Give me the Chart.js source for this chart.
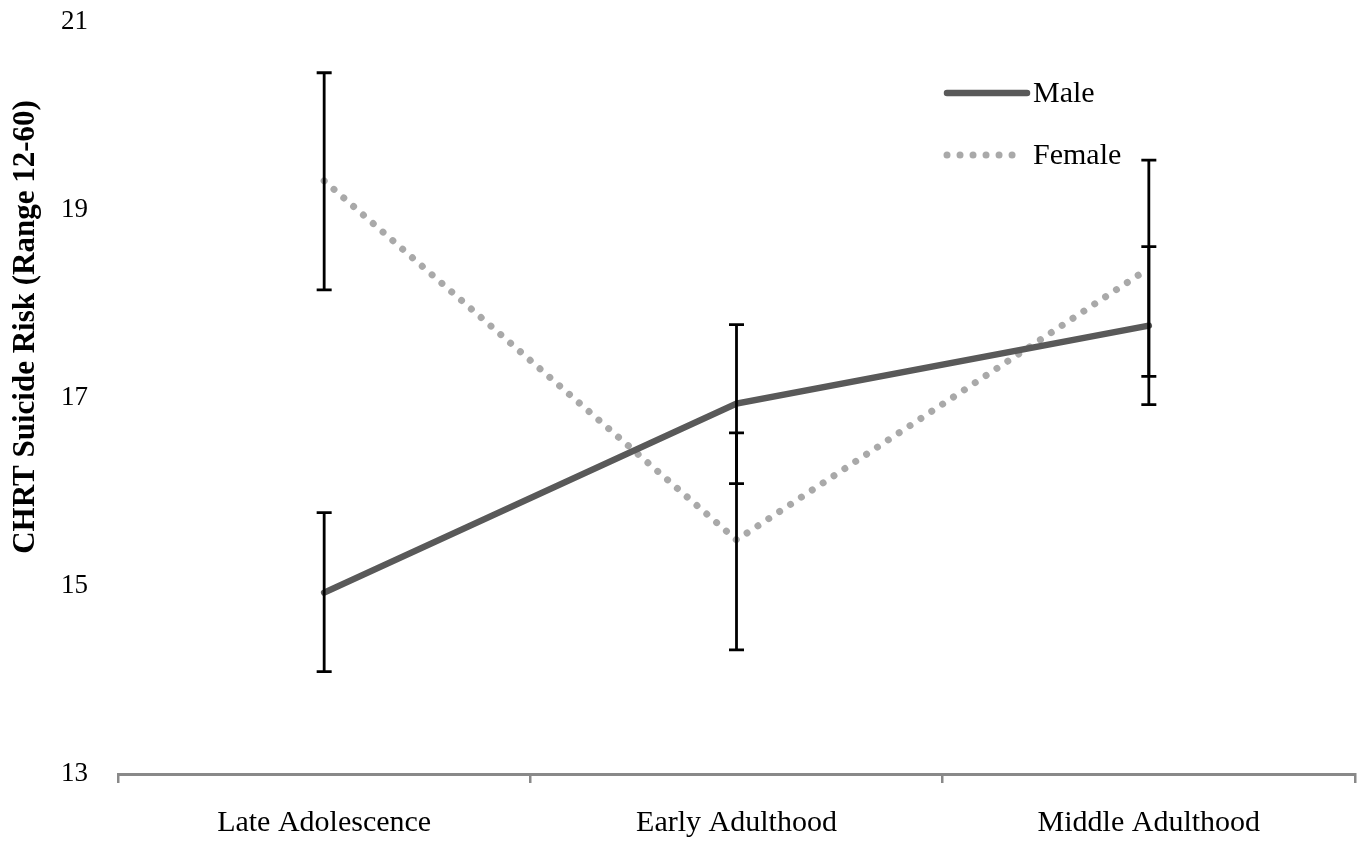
<!DOCTYPE html>
<html>
<head>
<meta charset="utf-8">
<script src="https://cdn.jsdelivr.net/npm/chart.js@4/dist/chart.umd.min.js"></script>
<style>
  html, body { margin: 0; padding: 0; background: #fff; }
  #wrap { width: 1363px; height: 842px; position: relative; }
</style>
</head>
<body>
<div id="wrap"><canvas id="graph"></canvas></div>
<script>
const categories = ['Late Adolescence', 'Early Adulthood', 'Middle Adulthood'];
const maleMean = [14.93, 16.94, 17.77];
const maleLow = [14.09, 16.09, 16.93];
const maleHigh = [15.78, 17.78, 18.61];
const femaleMean = [19.31, 15.49, 18.38];
const femaleLow = [18.15, 14.32, 17.23];
const femaleHigh = [20.46, 16.63, 19.53];
const yTicks = [13, 15, 17, 19, 21];
const yTitle = 'CHRT Suicide Risk (Range 12-60)';

const serif = "'Liberation Serif', 'Times New Roman', serif";

// error bars: [low, high] per dataset, drawn on top of the lines
const errorBars = [
  { low: maleLow, high: maleHigh },
  { low: femaleLow, high: femaleHigh }
];

const errorBarPlugin = {
  id: 'errorBars',
  afterDatasetsDraw(chart) {
    const ctx = chart.ctx;
    const y = chart.scales.y;
    ctx.save();
    ctx.strokeStyle = '#000';
    ctx.lineWidth = 2.8;
    errorBars.forEach((eb, di) => {
      const meta = chart.getDatasetMeta(di);
      meta.data.forEach((pt, i) => {
        const top = y.getPixelForValue(eb.high[i]);
        const bot = y.getPixelForValue(eb.low[i]);
        ctx.beginPath();
        ctx.moveTo(pt.x, top);
        ctx.lineTo(pt.x, bot);
        ctx.moveTo(pt.x - 7.5, top);
        ctx.lineTo(pt.x + 7.5, top);
        ctx.moveTo(pt.x - 7.5, bot);
        ctx.lineTo(pt.x + 7.5, bot);
        ctx.stroke();
      });
    });
    ctx.restore();
  }
};

// legend inside the plot (top right) and the y title, which sits above centre
const legendPlugin = {
  id: 'insideLegend',
  afterDraw(chart) {
    const ctx = chart.ctx;
    const rows = [{ y: 93, x2: 1027 }, { y: 155, x2: 1017 }];
    ctx.save();
    chart.data.datasets.forEach((ds, i) => {
      const r = rows[i];
      ctx.beginPath();
      ctx.strokeStyle = ds.borderColor;
      ctx.lineWidth = ds.borderWidth;
      ctx.lineCap = 'round';
      ctx.setLineDash(ds.borderDash || []);
      ctx.moveTo(947, r.y);
      ctx.lineTo(r.x2, r.y);
      ctx.stroke();
      ctx.setLineDash([]);
      ctx.fillStyle = '#000';
      ctx.font = '30px ' + serif;
      ctx.textBaseline = 'middle';
      ctx.textAlign = 'left';
      ctx.fillText(ds.label, 1033, r.y + 1);
    });

    ctx.translate(26, 327);
    ctx.rotate(-Math.PI / 2);
    ctx.font = 'bold 31px ' + serif;
    ctx.textAlign = 'center';
    ctx.textBaseline = 'middle';
    ctx.fillStyle = '#000';
    ctx.fillText(yTitle, 0, 0);
    ctx.restore();
  }
};

const config = {
  type: 'line',
  data: {
    labels: categories,
    datasets: [
      {
        label: 'Male',
        data: maleMean,
        borderColor: '#595959',
        borderWidth: 6.5,
        borderCapStyle: 'round',
        pointRadius: 0,
        tension: 0,
        fill: false
      },
      {
        label: 'Female',
        data: femaleMean,
        borderColor: '#A9A9A9',
        borderWidth: 7,
        borderDash: [0.01, 13],
        borderCapStyle: 'round',
        pointRadius: 0,
        tension: 0,
        fill: false
      }
    ]
  },
  options: {
    responsive: true,
    maintainAspectRatio: false,
    animation: false,
    layout: { padding: { top: 0, right: 8, bottom: 4, left: 0 } },
    plugins: {
      legend: { display: false },
      tooltip: { enabled: false }
    },
    scales: {
      x: {
        offset: true,
        afterFit: s => { s.height = 64; },
        grid: {
          offset: true,
          drawOnChartArea: false,
          drawTicks: true,
          tickLength: 9,
          color: '#898989',
          lineWidth: 2.5
        },
        border: { display: true, color: '#898989', width: 3 },
        ticks: {
          color: '#000',
          padding: 22,
          font: { family: serif, size: 30 }
        }
      },
      y: {
        min: 13,
        max: 21,
        afterFit: s => { s.width = 118; s.paddingTop = 22; s.paddingBottom = 0; },
        afterBuildTicks: s => { s.ticks = yTicks.map(v => ({ value: v })); },
        grid: { display: false, drawTicks: false },
        border: { display: false },
        ticks: {
          color: '#000',
          padding: 30,
          font: { family: serif, size: 27 }
        },
        title: { display: false }
      }
    }
  },
  plugins: [errorBarPlugin, legendPlugin]
};

const myChart = new Chart(document.getElementById('graph'), config);
</script>
</body>
</html>
